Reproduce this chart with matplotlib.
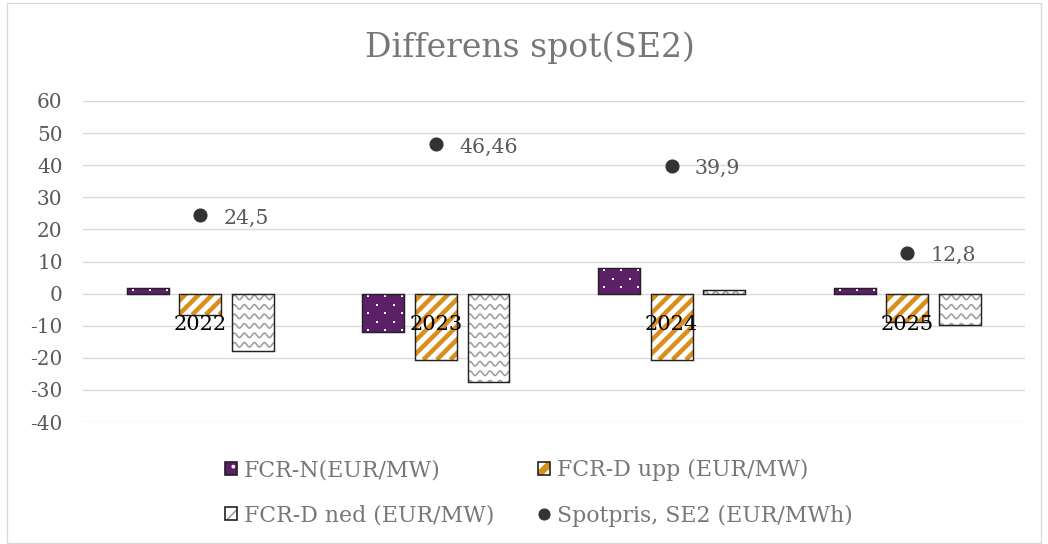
import numpy as np
import matplotlib
matplotlib.use("Agg")
import matplotlib.pyplot as plt
from matplotlib.patches import Patch, Rectangle
from matplotlib.lines import Line2D

# Data
years = ['2022', '2023', '2024', '2025']
fcr_n = [1.9, -11.9, 8.1, 1.9]
fcr_d_upp = [-6.6, -20.6, -20.6, -9.0]
fcr_d_ned = [-17.8, -27.5, 1.2, -9.8]
spot = [24.5, 46.46, 39.9, 12.8]
spot_labels = ['24,5', '46,46', '39,9', '12,8']

purple = '#5c2068'
orange = '#d98f1c'
gray_text = '#595959'
light_text = '#777777'
wave_gray = '#a0a0a0'
edge = '#222222'

plt.rcParams['font.family'] = ['DejaVu Serif']
plt.rcParams['axes.unicode_minus'] = False

DPI = 80
fig = plt.figure(figsize=(1048 / DPI, 544 / DPI), dpi=DPI)
ax = fig.add_axes([82.5 / 1048, 1 - 422 / 544, (1025 - 82.5) / 1048, (422 - 101) / 544])
ax.set_xlim(-0.5, 3.5)
ax.set_ylim(-40, 60)

x = np.arange(len(years))
w = 0.178
step = 0.223

# pixel size in data units (axes is 942.5 x 321 px)
PX_X = 4 / 942.5
PX_Y = 100 / 321


def px(n):
    # pixels -> points at this dpi
    return n * 72 / DPI


def extent(rect):
    x0, x1 = rect.get_x(), rect.get_x() + rect.get_width()
    y0, y1 = sorted([rect.get_y(), rect.get_y() + rect.get_height()])
    return x0, x1, y0, y1


# FCR-N: purple with small white dots
n_bars = ax.bar(x - step, fcr_n, w, color=purple, linewidth=0, zorder=2)
ax.bar(x - step, fcr_n, w, fill=False, edgecolor=edge, linewidth=1.3, zorder=4)
for rect in n_bars:
    x0, x1, y0, y1 = extent(rect)
    for k, yy in enumerate(np.arange(y1 - 2.5 * PX_Y, y0 - 10 * PX_Y, -8.5 * PX_Y)):
        xx = np.arange(x0 + (6 + 8.5 * (k % 2)) * PX_X, x1 + 10 * PX_X, 17 * PX_X)
        sc = ax.scatter(xx, np.full(len(xx), yy), s=px(2.6) ** 2, marker='s',
                        color='white', linewidths=0, zorder=3)
        sc.set_clip_path(rect)

# FCR-D upp: white with orange diagonal stripes
upp = ax.bar(x, fcr_d_upp, w, color='white', linewidth=0, zorder=2)
ax.bar(x, fcr_d_upp, w, fill=False, edgecolor=edge, linewidth=1.3, zorder=4)
for rect in upp:
    x0, x1, y0, y1 = extent(rect)
    hgt_px = (y1 - y0) / PX_Y
    for s0 in np.arange(-hgt_px - 20, (x1 - x0) / PX_X + 20, 13.5):
        xs = np.array([x0 + s0 * PX_X, x0 + (s0 + hgt_px + 40) * PX_X])
        ys = np.array([y0, y0 + (hgt_px + 40) * PX_Y])
        ln, = ax.plot(xs, ys, color=orange, lw=px(4.5), solid_capstyle='butt', zorder=3)
        ln.set_clip_path(rect)

# FCR-D ned: white with grey waves
ned = ax.bar(x + step, fcr_d_ned, w, color='white', linewidth=0, zorder=2)
ax.bar(x + step, fcr_d_ned, w, fill=False, edgecolor=edge, linewidth=1.3, zorder=4)
for rect in ned:
    x0, x1, y0, y1 = extent(rect)
    xs = np.linspace(x0, x1, 200)
    for yy in np.arange(y1 - 1.2, y0 - 3, -2.95):
        ln, = ax.plot(xs, yy + 0.7 * np.sin((xs - x0) / (10 * PX_X) * 2 * np.pi),
                      color=wave_gray, lw=1.5, zorder=3)
        ln.set_clip_path(rect)

# Spot price dots
ax.scatter(x, spot, s=px(13) ** 2, color='#333333', zorder=5)
for xi, v, lab in zip(x, spot, spot_labels):
    ax.annotate(lab, (xi, v), xytext=(23, -3), textcoords='offset pixels',
                ha='left', va='center', fontsize=px(20.5), color=gray_text)

# Category labels at zero line
for xi, lab in zip(x, years):
    ax.annotate(lab, (xi, 0), xytext=(0, -31), textcoords='offset pixels',
                ha='center', va='center', fontsize=px(21), color='black', zorder=6)

ax.set_yticks(range(-40, 70, 10))
ax.set_xticks([])
ax.tick_params(axis='y', length=0, labelsize=px(20), labelcolor=gray_text, pad=px(20))
ax.grid(axis='y', color='#d9d9d9', lw=1.2, zorder=0)
ax.set_axisbelow(True)
for s in ax.spines.values():
    s.set_visible(False)

fig.text(530 / 1048, 1 - 48 / 544, 'Differens spot(SE2)', ha='center', va='center',
         fontsize=px(33), color=light_text)


# Legend: hatched square with a dark outline drawn on top
class SquareHandler:
    def __init__(self, face, hatch_color, hatch, hatch_lw):
        self.face, self.hatch_color, self.hatch, self.hatch_lw = face, hatch_color, hatch, hatch_lw

    def legend_artist(self, legend, orig_handle, fontsize, handlebox):
        x0, y0 = -handlebox.xdescent, -handlebox.ydescent
        wd, ht = handlebox.width, handlebox.height
        tr = handlebox.get_transform()
        with plt.rc_context({'hatch.linewidth': self.hatch_lw}):
            r1 = Rectangle((x0, y0), wd, ht, facecolor=self.face, edgecolor=self.hatch_color,
                           hatch=self.hatch, linewidth=0, transform=tr)
        r2 = Rectangle((x0, y0), wd, ht, fill=False, edgecolor=edge, linewidth=1.5, transform=tr)
        handlebox.add_artist(r1)
        handlebox.add_artist(r2)
        return r1


h_n, h_upp, h_ned = Patch(), Patch(), Patch()
h_spot = Line2D([], [], marker='o', ls='none', color='#333333', markersize=px(11))

fig.legend([h_n, h_ned, h_upp, h_spot],
           ['FCR-N(EUR/MW)', 'FCR-D ned (EUR/MW)', 'FCR-D upp (EUR/MW)', 'Spotpris, SE2 (EUR/MWh)'],
           handler_map={h_n: SquareHandler(purple, 'white', '.', 1.0),
                        h_upp: SquareHandler('white', orange, '/', 6.0),
                        h_ned: SquareHandler('white', wave_gray, '/', 1.5)},
           ncol=2, loc='center', bbox_to_anchor=(539 / 1048, 1 - 493 / 544),
           frameon=False, fontsize=px(22), labelcolor=light_text,
           handlelength=0.55, handleheight=0.55, handletextpad=0.3,
           columnspacing=2.0, labelspacing=1.05)

fig.add_artist(Rectangle((7 / 1048, 1 / 544), 1034 / 1048, 540 / 544, transform=fig.transFigure,
                         fill=False, edgecolor='#d9d9d9', lw=1.2))

fig.savefig('out.png', dpi=DPI)
